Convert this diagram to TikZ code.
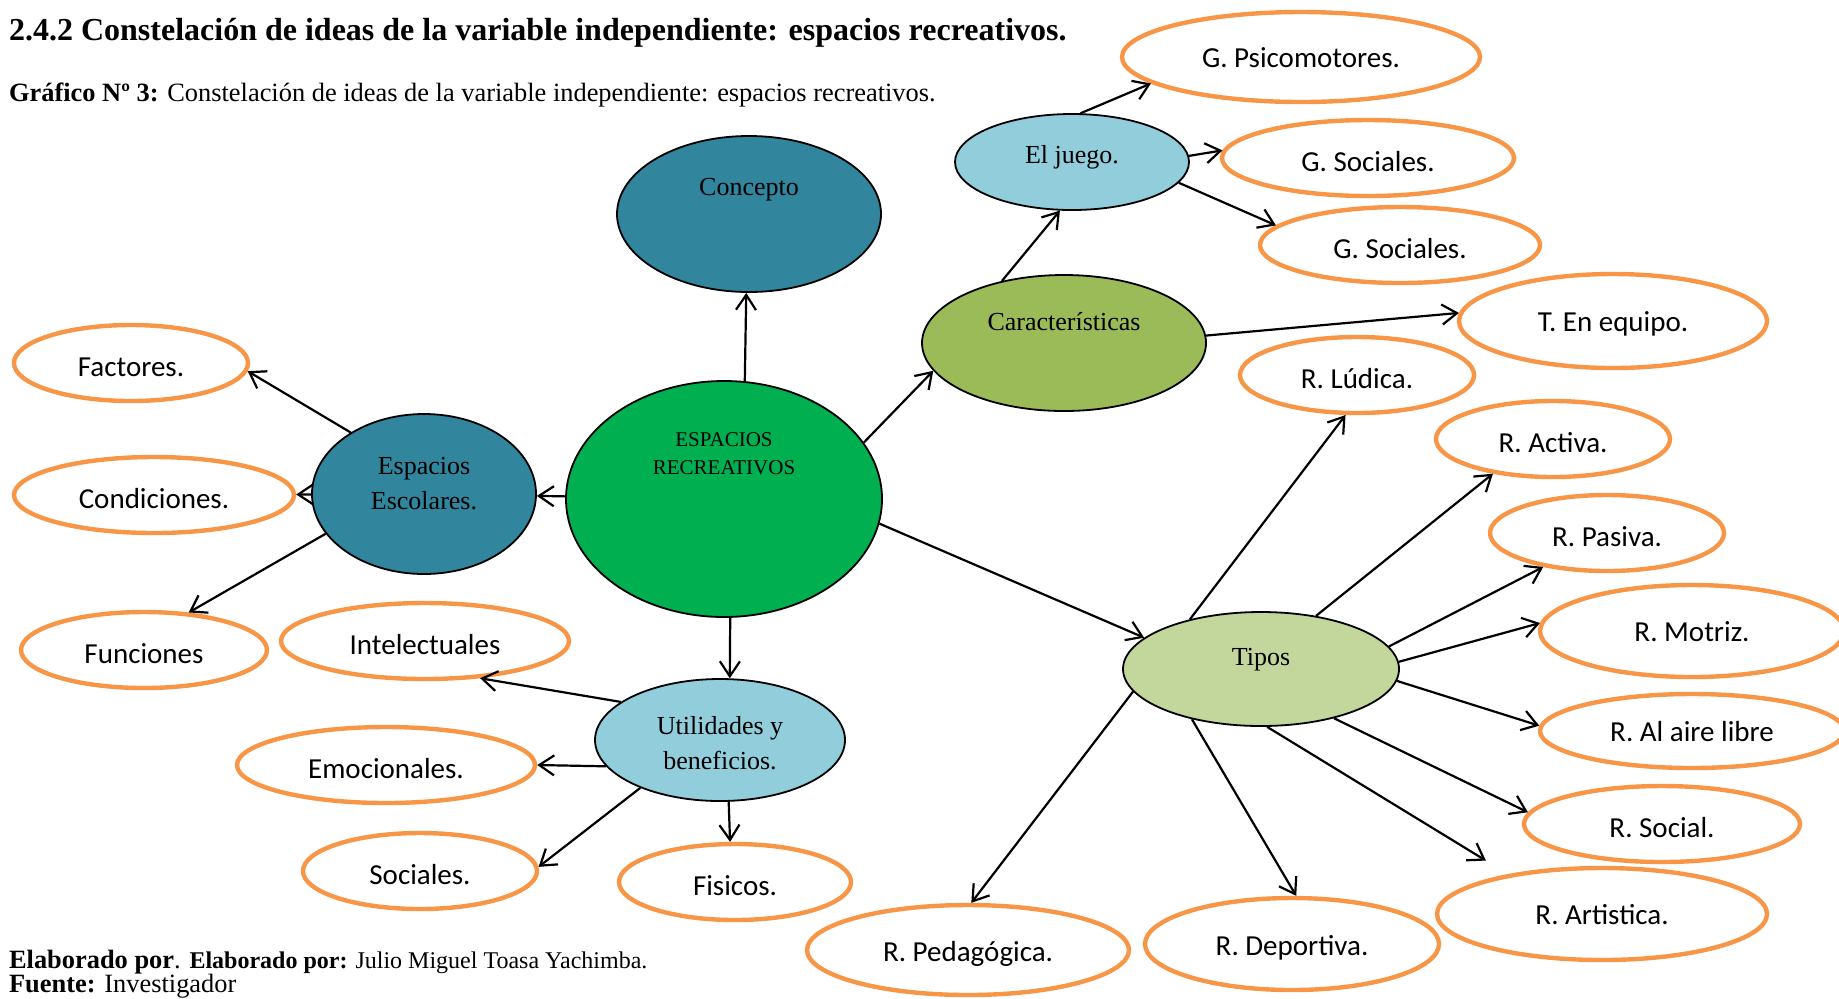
\documentclass[tikz,border=0pt]{standalone}
\usepackage{fontspec}
\setmainfont{Liberation Serif}
\newfontfamily\calibri{Carlito}
\usepackage{tikz}
\RequirePackage{xcolor}
\usetikzlibrary{arrows.meta,shapes}

\definecolor{tealblue}{HTML}{31859C}
\definecolor{grassgreen}{HTML}{00B050}
\definecolor{skyblue}{HTML}{92CDDC}
\definecolor{olivegreen}{HTML}{9BBB59}
\definecolor{palegreen}{HTML}{C3D69B}
\definecolor{orangeline}{HTML}{F79646}

\begin{document}
\begin{tikzpicture}[x=0.5pt,y=-0.5pt,->,>={Straight Barb[length=7.5pt,width=10pt]},line width=1.1pt,
	main node/.style={ellipse,draw=black,line width=0.9pt,inner sep=0pt},
	leaf node/.style={ellipse,draw=orangeline,line width=2.2pt,inner sep=0pt,text height=13pt,text depth=0pt,font=\calibri\fontsize{14.5}{17}\selectfont},
	big leaf/.style={leaf node,text height=10pt},
	text line/.style={anchor=base west,inner sep=0pt,font=\fontsize{13.2}{15}\selectfont},
	every label/.style={font=\fontsize{13}{17.5}\selectfont,align=center}]
	\useasboundingbox (0,0) rectangle (1839,998);
	
	\node[text line,font=\bfseries\fontsize{16}{20}\selectfont] (titulo) at (8,40) {2.4.2 Constelación de ideas de la variable independiente: espacios recreativos.};
	\node[text line] (grafico) at (8,101) {\textbf{Gráfico Nº 3:} Constelación de ideas de la variable independiente: espacios recreativos.};
	\node[text line] (elaborado) at (8,968) {\textbf{Elaborado por}. \fontsize{12}{14}\selectfont\textbf{Elaborado por:} Julio Miguel Toasa Yachimba.};
	\node[text line] (fuente) at (8,992) {\textbf{Fuente:} Investigador};
	
	\node[main node,fill=grassgreen,minimum width=158pt,minimum height=118pt,label={[yshift=22.5pt,font=\fontsize{10.5}{14}\selectfont]center:ESPACIOS\\RECREATIVOS}] (1) at (724,499) {};
	\node[main node,fill=tealblue,minimum width=132pt,minimum height=78pt,label={[yshift=12.3pt]center:Concepto}] (2) at (749,214) {};
	\node[main node,fill=tealblue,minimum width=112pt,minimum height=80pt,label={[yshift=5.4pt]center:Espacios\\Escolares.}] (3) at (424,494) {};
	\node[main node,fill=olivegreen,minimum width=142pt,minimum height=68pt,label={[yshift=10.5pt]center:Características}] (4) at (1064,343) {};
	\node[main node,fill=palegreen,minimum width=138pt,minimum height=57pt,label={[yshift=4.8pt]center:Tipos}] (5) at (1261,669) {};
	\node[main node,fill=skyblue,minimum width=125pt,minimum height=61pt,label={[yshift=-1.5pt]center:Utilidades y\\beneficios.}] (6) at (720,740) {};
	\node[main node,fill=skyblue,minimum width=117pt,minimum height=48pt,label={[yshift=2.3pt]center:El juego.}] (7) at (1072,162) {};
	
	\node[leaf node,minimum width=117pt,minimum height=38pt] (8) at (131,363) {Factores.};
	\node[leaf node,minimum width=140pt,minimum height=38pt] (9) at (154,495) {Condiciones.};
	\node[leaf node,minimum width=123pt,minimum height=38pt] (10) at (144,650) {Funciones};
	\node[leaf node,minimum width=144pt,minimum height=38pt] (11) at (425,641) {Intelectuales};
	\node[leaf node,minimum width=149pt,minimum height=38pt] (12) at (386,765) {Emocionales.};
	\node[leaf node,minimum width=117pt,minimum height=38pt] (13) at (420,871) {Sociales.};
	\node[leaf node,minimum width=116pt,minimum height=38pt] (14) at (735,882) {Fisicos.};
	\node[big leaf,minimum width=179pt,minimum height=45pt] (15) at (1301,57) {G. Psicomotores.};
	\node[leaf node,minimum width=146pt,minimum height=38pt] (16) at (1368,158) {G. Sociales.};
	\node[leaf node,minimum width=140pt,minimum height=38pt] (17) at (1400,245) {G. Sociales.};
	\node[big leaf,minimum width=154pt,minimum height=47pt] (18) at (1613,321) {T. En equipo.};
	\node[leaf node,minimum width=117pt,minimum height=38pt] (19) at (1357,375) {R. Lúdica.};
	\node[leaf node,minimum width=117pt,minimum height=38pt] (20) at (1553,439) {R. Activa.};
	\node[leaf node,minimum width=117pt,minimum height=38pt] (21) at (1607,533) {R. Pasiva.};
	\node[big leaf,minimum width=152pt,minimum height=46pt] (22) at (1692,631) {R. Motriz.};
	\node[big leaf,minimum width=152pt,minimum height=37pt] (23) at (1692,731) {R. Al aire libre};
	\node[leaf node,minimum width=138pt,minimum height=38pt] (24) at (1662,824) {R. Social.};
	\node[big leaf,minimum width=165pt,minimum height=46pt] (25) at (1602,914) {R. Artistica.};
	\node[big leaf,text height=11.5pt,minimum width=147pt,minimum height=46pt] (26) at (1292,944) {R. Deportiva.};
	\node[big leaf,text height=11.5pt,minimum width=161pt,minimum height=45pt] (27) at (968,950) {R. Pedagógica.};
	
	\path
	(1.80) edge (2.268)
	(1) edge (3)
	(1.22) edge (4.192)
	(1.351) edge (5.165)
	(1.273) edge (6.81)
	(3.140) edge (8.356)
	(3) edge (9)
	(3.202) edge (10.40)
	(6.159) edge (11.326)
	(6.193) edge (12.0)
	(6.211) edge (13.2)
	(6.278) edge (14.97)
	(4.135) edge (7.256)
	(4.3) edge (18.177)
	(7.80) edge (15.190)
	(7.3) edge (16.177)
	(7.349) edge (17.171)
	(5.145) edge (19.254)
	(5.44) edge (20.210)
	(5.10) edge (21.208)
	(5.3) edge (22.177)
	(5.355) edge (23.178)
	(5.326) edge (24.175)
	(5.276) edge [shorten >=13pt] (25.157)
	(5.216) edge (26.85)
	(5.190) edge (27.86);
\end{tikzpicture}
\end{document}
